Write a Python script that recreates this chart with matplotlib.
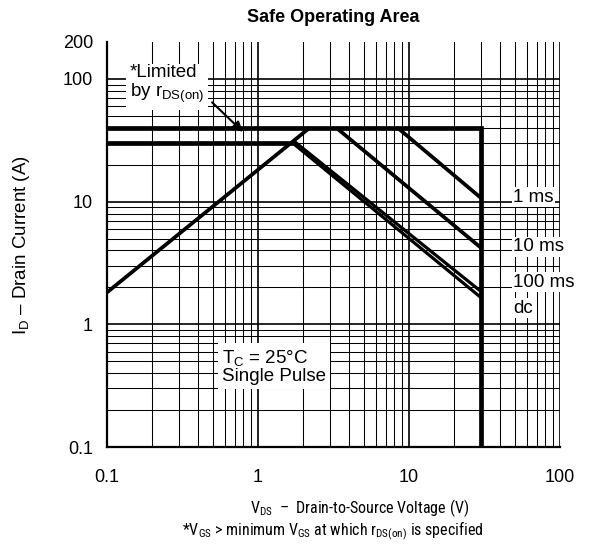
import os
import matplotlib
matplotlib.use('Agg')
import matplotlib.pyplot as plt
from matplotlib import font_manager
from matplotlib.font_manager import FontProperties
from matplotlib.ticker import FixedLocator, NullFormatter, FixedFormatter

plt.rcParams['font.family'] = ['Liberation Sans', 'DejaVu Sans']
plt.rcParams['mathtext.fontset'] = 'custom'
plt.rcParams['mathtext.rm'] = 'Liberation Sans'
plt.rcParams['mathtext.it'] = 'Liberation Sans:italic'
plt.rcParams['mathtext.bf'] = 'Liberation Sans:bold'

# ---- data ----
limit_v = [0.1, 30, 30]          # package limit + BVdss edge
limit_i = [40, 40, 0.1]
rds_v = [0.1, 2.2]               # limited by rDS(on)
rds_i = [1.82, 40]
i30_v = [0.1, 1.7]
i30_i = [30, 30]
ms1_v = [8.4, 30]
ms1_i = [40, 10.7]
ms10_v = [3.3, 30]
ms10_i = [40, 4.2]
ms100_v = [1.72, 30]
ms100_i = [31.3, 1.85]
dc_v = [1.7, 30]
dc_i = [30, 1.65]

x_major = [0.1, 1, 10, 100]
x_major_labels = ['0.1', '1', '10', '100']
y_major = [0.1, 1, 10, 100, 200]
y_major_labels = ['0.1', '1', '10', '100', '200']
x_minor = [m * d for d in (0.1, 1, 10) for m in range(2, 10)]
y_minor = [m * d for d in (0.1, 1, 10) for m in range(2, 10)]


# ---- pick a condensed sans font if one is installed ----
def _num_w(w):
    if isinstance(w, (int, float)):
        return w
    return font_manager.weight_dict.get(w, 400)


def _num_s(s):
    if isinstance(s, (int, float)):
        return s
    return font_manager.stretch_dict.get(s, 500)


PREFS = ['Liberation Sans Narrow', 'Roboto Condensed', 'Noto Sans', 'Open Sans',
         'Lato', 'DejaVu Sans']


def pick_condensed(target_w):
    best, best_score = None, None
    for f in font_manager.fontManager.ttflist:
        nm, fn = f.name, os.path.basename(f.fname)
        if f.style != 'normal' or 'Mono' in nm or 'Mono' in fn or 'Serif' in nm or 'CJK' in nm:
            continue
        semi = 'SemiCondensed' in fn or 'ExtraCondensed' in fn or 'Semi' in nm or 'Extra' in nm
        cond = (_num_s(f.stretch) <= 300) or 'Narrow' in nm or 'Narrow' in fn or \
            (('Condensed' in nm or 'Condensed' in fn) and not semi)
        if not cond or semi:
            continue
        pi = PREFS.index(nm) if nm in PREFS else len(PREFS)
        for i, p in enumerate(PREFS):
            if nm.startswith(p):
                pi = min(pi, i)
        score = (pi, abs(_num_w(f.weight) - target_w))
        if best_score is None or score < best_score:
            best, best_score = f, score
    if best is None or abs(_num_w(best.weight) - target_w) > 150:
        return None
    return FontProperties(fname=best.fname)


fp_cond = pick_condensed(400) or FontProperties(family='Liberation Sans')

fig = plt.figure(figsize=(5.94, 5.46), dpi=100)
ax = fig.add_axes([107/594, 1-447/546, 453/594, 405/546])
ax.set_xscale('log')
ax.set_yscale('log')
ax.set_xlim(0.1, 100)
ax.set_ylim(0.1, 200)

ax.xaxis.set_major_locator(FixedLocator(x_major))
ax.xaxis.set_major_formatter(FixedFormatter(x_major_labels))
ax.yaxis.set_major_locator(FixedLocator(y_major))
ax.yaxis.set_major_formatter(FixedFormatter(y_major_labels))
ax.xaxis.set_minor_locator(FixedLocator(x_minor))
ax.yaxis.set_minor_locator(FixedLocator(y_minor))
ax.xaxis.set_minor_formatter(NullFormatter())
ax.yaxis.set_minor_formatter(NullFormatter())

ax.grid(which='major', color='black', lw=1.2)
ax.grid(which='minor', color='black', lw=0.75)
ax.yaxis.get_major_ticks()[-1].gridline.set_visible(False)
ax.set_axisbelow(True)

ax.tick_params(which='both', length=0, labelsize=13)
ax.tick_params(axis='x', pad=16)
ax.tick_params(axis='y', pad=10)
for s in ('top', 'right'):
    ax.spines[s].set_visible(False)
for s in ('left', 'bottom'):
    ax.spines[s].set_linewidth(1.6)

thick = 3.4
mid = 2.7
ax.plot(limit_v, limit_i, color='black', lw=thick, solid_capstyle='butt', solid_joinstyle='miter', zorder=3)
ax.plot(i30_v, i30_i, color='black', lw=thick, solid_capstyle='butt', zorder=3)
ax.plot(rds_v, rds_i, color='black', lw=mid, solid_capstyle='butt', zorder=3)
ax.plot(ms1_v, ms1_i, color='black', lw=mid, solid_capstyle='butt', zorder=3)
ax.plot(ms10_v, ms10_i, color='black', lw=mid, solid_capstyle='butt', zorder=3)
ax.plot(ms100_v, ms100_i, color='black', lw=2.3, solid_capstyle='butt', zorder=3)
ax.plot(dc_v, dc_i, color='black', lw=2.3, solid_capstyle='butt', zorder=3)

ANN = 13.5
ax.text(0.051, 0.895, '*Limited\nby r$_{\\mathregular{DS(on)}}$', transform=ax.transAxes,
        fontsize=ANN, va='center', ha='left', linespacing=1.1,
        bbox=dict(facecolor='white', edgecolor='none', pad=3), zorder=5)
ax.annotate('', xy=(0.300, 0.778), xytext=(0.232, 0.851), xycoords='axes fraction',
            arrowprops=dict(arrowstyle='-|>', color='black', lw=1.5, mutation_scale=15,
                            shrinkA=0, shrinkB=0), zorder=6)
for lab, yy in (('1 ms', 0.617), ('10 ms', 0.494), ('100 ms', 0.407), ('dc', 0.343)):
    ax.text(0.896, yy, lab, transform=ax.transAxes, fontsize=ANN, va='center', ha='left',
            bbox=dict(facecolor='white', edgecolor='none', pad=1.0), zorder=5, clip_on=False)
ax.text(0.254, 0.198, 'T$_{\\mathregular{C}}$ = 25°C\nSingle Pulse', transform=ax.transAxes,
        fontsize=ANN, va='center', ha='left', linespacing=1.0,
        bbox=dict(facecolor='white', edgecolor='none', pad=3), zorder=5)

fig.text(333/594, 1-17/546, 'Safe Operating Area', fontsize=13, fontweight='bold',
         ha='center', va='center')
fig.text(22/594, 1-245/546, 'I$_{\\mathregular{D}}$ – Drain Current (A)', rotation=90,
         fontsize=13.5, ha='center', va='center')
fig.text(360/594, 1-508/546, 'V$_{\\mathregular{DS}}$  –  Drain-to-Source Voltage (V)',
         fontproperties=fp_cond, fontsize=11.5, ha='center', va='center')
fig.text(333/594, 1-531/546,
         '*V$_{\\mathregular{GS}}$ > minimum V$_{\\mathregular{GS}}$ at which '
         'r$_{\\mathregular{DS(on)}}$ is specified',
         fontproperties=fp_cond, fontsize=11.5, ha='center', va='center')

fig.savefig('out.png', dpi=100)
